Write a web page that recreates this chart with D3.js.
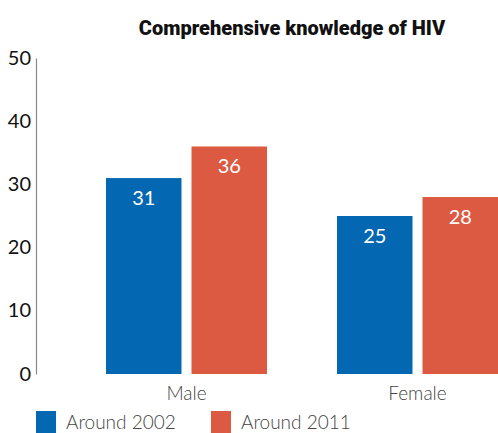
<!DOCTYPE html>
<html>
<head>
<meta charset="utf-8">
<script src="https://cdn.jsdelivr.net/npm/d3@7"></script>
<style>
  html, body { margin: 0; padding: 0; background: #fff; }
  svg { display: block; }
</style>
</head>
<body>
<div id="chart"></div>
<script>
// Chart data
const title = "Comprehensive knowledge of HIV";
const categories = ["Male", "Female"];
const seriesNames = ["Around 2002", "Around 2011"];
const around2002 = [31, 25];
const around2011 = [36, 28];
const yTicks = [0, 10, 20, 30, 40, 50];
const colors = ["#0467b1", "#dc5a42"];

const width = 498, height = 433;
const bodyFont = "Lato, 'Open Sans', sans-serif";

const svg = d3.select("#chart").append("svg")
  .attr("width", width).attr("height", height);

const seriesValues = [around2002, around2011];
const rows = categories.map((c, i) => ({
  category: c,
  values: seriesNames.map((s, j) => ({ series: s, idx: j, value: seriesValues[j][i] }))
}));

// Scales
const y = d3.scaleLinear().domain([0, 50]).range([374, 58]);
const x0 = d3.scaleBand().domain(categories).range([106, 498])
  .paddingInner(0.303).paddingOuter(0);
const x1 = d3.scaleBand().domain(seriesNames).range([0, x0.bandwidth()])
  .paddingInner(0.117).paddingOuter(0);
const color = d3.scaleOrdinal().domain(seriesNames).range(colors);

// Title
svg.append("text")
  .attr("x", 292).attr("y", 35)
  .attr("text-anchor", "middle")
  .attr("font-family", "Roboto, 'Liberation Sans', sans-serif")
  .attr("font-weight", 900)
  .attr("font-size", 20)
  .attr("fill", "#111")
  .text(title);

// Y axis: vertical line with labels, no tick marks
const yAxis = d3.axisLeft(y).tickValues(yTicks).tickSize(0).tickPadding(5);
const yg = svg.append("g").attr("transform", "translate(36,0)").call(yAxis);
yg.select(".domain").attr("stroke", "#8a8a8a").attr("stroke-width", 1.2);
yg.selectAll(".tick text")
  .attr("font-family", bodyFont)
  .attr("font-size", 20)
  .attr("fill", "#111")
  .attr("dy", "0.3em");

// Bars
const groups = svg.append("g").selectAll("g")
  .data(rows).join("g")
  .attr("transform", d => `translate(${x0(d.category)},0)`);

groups.selectAll("rect")
  .data(d => d.values).join("rect")
  .attr("x", d => x1(d.series))
  .attr("y", d => y(d.value))
  .attr("width", x1.bandwidth())
  .attr("height", d => y(0) - y(d.value))
  .attr("fill", d => color(d.series));

// Value labels inside the bars
groups.selectAll("text.value")
  .data(d => d.values).join("text")
  .attr("class", "value")
  .attr("x", d => x1(d.series) + x1.bandwidth() / 2)
  .attr("y", d => y(d.value) + 27)
  .attr("text-anchor", "middle")
  .attr("font-family", bodyFont)
  .attr("font-size", 20)
  .attr("fill", "#fff")
  .text(d => d.value);

// Category labels
svg.append("g").selectAll("text")
  .data(categories).join("text")
  .attr("x", d => x0(d) + x0.bandwidth() / 2)
  .attr("y", 400)
  .attr("text-anchor", "middle")
  .attr("font-family", bodyFont)
  .attr("font-weight", 300)
  .attr("font-size", 19)
  .attr("fill", "#444")
  .text(d => d);

// Legend
const legendX = [36, 211];
const legend = svg.append("g").selectAll("g")
  .data(seriesNames).join("g")
  .attr("transform", (d, i) => `translate(${legendX[i]},411)`);
legend.append("rect")
  .attr("width", 20).attr("height", 22)
  .attr("fill", d => color(d));
legend.append("text")
  .attr("x", 30).attr("y", 18)
  .attr("font-family", bodyFont)
  .attr("font-weight", 300)
  .attr("font-size", 19)
  .attr("fill", "#444")
  .text(d => d);
</script>
</body>
</html>
